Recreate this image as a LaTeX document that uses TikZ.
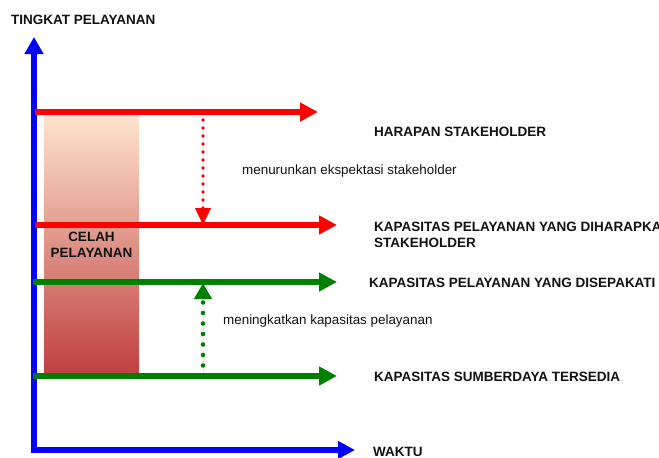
\documentclass[tikz,border=0pt]{standalone}
\usepackage{fontspec}
\setmainfont{Liberation Sans}
\usetikzlibrary{arrows.meta}
\definecolor{axisblue}{RGB}{0,0,255}
\definecolor{lred}{RGB}{255,0,0}
\definecolor{lgreen}{RGB}{0,128,0}
\definecolor{gtop}{RGB}{253,229,205}
\definecolor{gbot}{RGB}{192,64,64}
\definecolor{txt}{RGB}{17,17,17}
\begin{document}
\begin{tikzpicture}[x=1pt,y=-1pt,
  axis/.style={draw=axisblue, line width=6pt, line join=miter,
    {Triangle[length=17pt,width=18pt]}-{Triangle[length=17pt,width=17pt]}},
  redline/.style={draw=lred, line width=6pt, -{Triangle[length=18pt,width=18pt]}},
  greenline/.style={draw=lgreen, line width=6pt, -{Triangle[length=18pt,width=18pt]}},
  reddot/.style={draw=lred, fill=lred, line width=3.6pt, line cap=round,
    dash pattern=on 0pt off 8pt, -{Triangle[length=17pt,width=15pt]}},
  greendot/.style={draw=lgreen, fill=lgreen, line width=4.6pt, line cap=round,
    dash pattern=on 0pt off 10.5pt, -{Triangle[length=16pt,width=17pt]}},
  boldlbl/.style={font=\fontsize{13.5}{16}\selectfont\bfseries, text=txt, inner sep=0pt, anchor=base west},
  normlbl/.style={font=\fontsize{13.4}{16}\selectfont, text=txt, inner sep=0pt, anchor=base west}
]
\useasboundingbox (0,0) rectangle (659,458);

% gap rectangle
\shade[top color=gtop, bottom color=gbot] (44,115) rectangle (139,373);

% axes
\coordinate (ytip) at (34,37);
\coordinate (orig) at (34,450);
\coordinate (xtip) at (355,450);
\draw[axis] (ytip) -- (orig) -- (xtip);

% levels
\coordinate (h1s) at (35,112);  \coordinate (h1e) at (318,112);
\coordinate (h2s) at (35,225);  \coordinate (h2e) at (337,225);
\coordinate (g1s) at (33,282);  \coordinate (g1e) at (337,282);
\coordinate (g2s) at (33,376);  \coordinate (g2e) at (337,376);
\draw[redline] (h1s) -- (h1e);
\draw[redline] (h2s) -- (h2e);
\draw[greenline] (g1s) -- (g1e);
\draw[greenline] (g2s) -- (g2e);

% dotted arrows
\coordinate (rds) at (203,120);
\coordinate (rde) at (203,225);
\coordinate (gds) at (203,376);
\coordinate (gde) at (203,283);
\draw[reddot] (rds) -- (rde);
\draw[greendot] (gds) -- (gde);

% labels
\node[boldlbl] (ylab) at (11,24.3) {TINGKAT PELAYANAN};
\node[boldlbl] (xlab) at (373,456) {WAKTU};
\node[boldlbl] (harapan) at (374,136) {HARAPAN STAKEHOLDER};
\node[boldlbl] (kapa) at (374,231) {KAPASITAS PELAYANAN YANG DIHARAPKAN};
\node[boldlbl] (kapb) at (374,247) {STAKEHOLDER};
\node[boldlbl] (sepakat) at (369,287) {KAPASITAS PELAYANAN YANG DISEPAKATI};
\node[boldlbl] (sumber) at (374,381) {KAPASITAS SUMBERDAYA TERSEDIA};
\node[normlbl] (turun) at (242,174) {menurunkan ekspektasi stakeholder};
\node[normlbl] (naik) at (223,324) {meningkatkan kapasitas pelayanan};
\node[font=\fontsize{13.5}{16}\selectfont\bfseries, text=txt, inner sep=0pt, align=center]
  (celah) at (91.5,244.4) {CELAH\\PELAYANAN};
\end{tikzpicture}
\end{document}
